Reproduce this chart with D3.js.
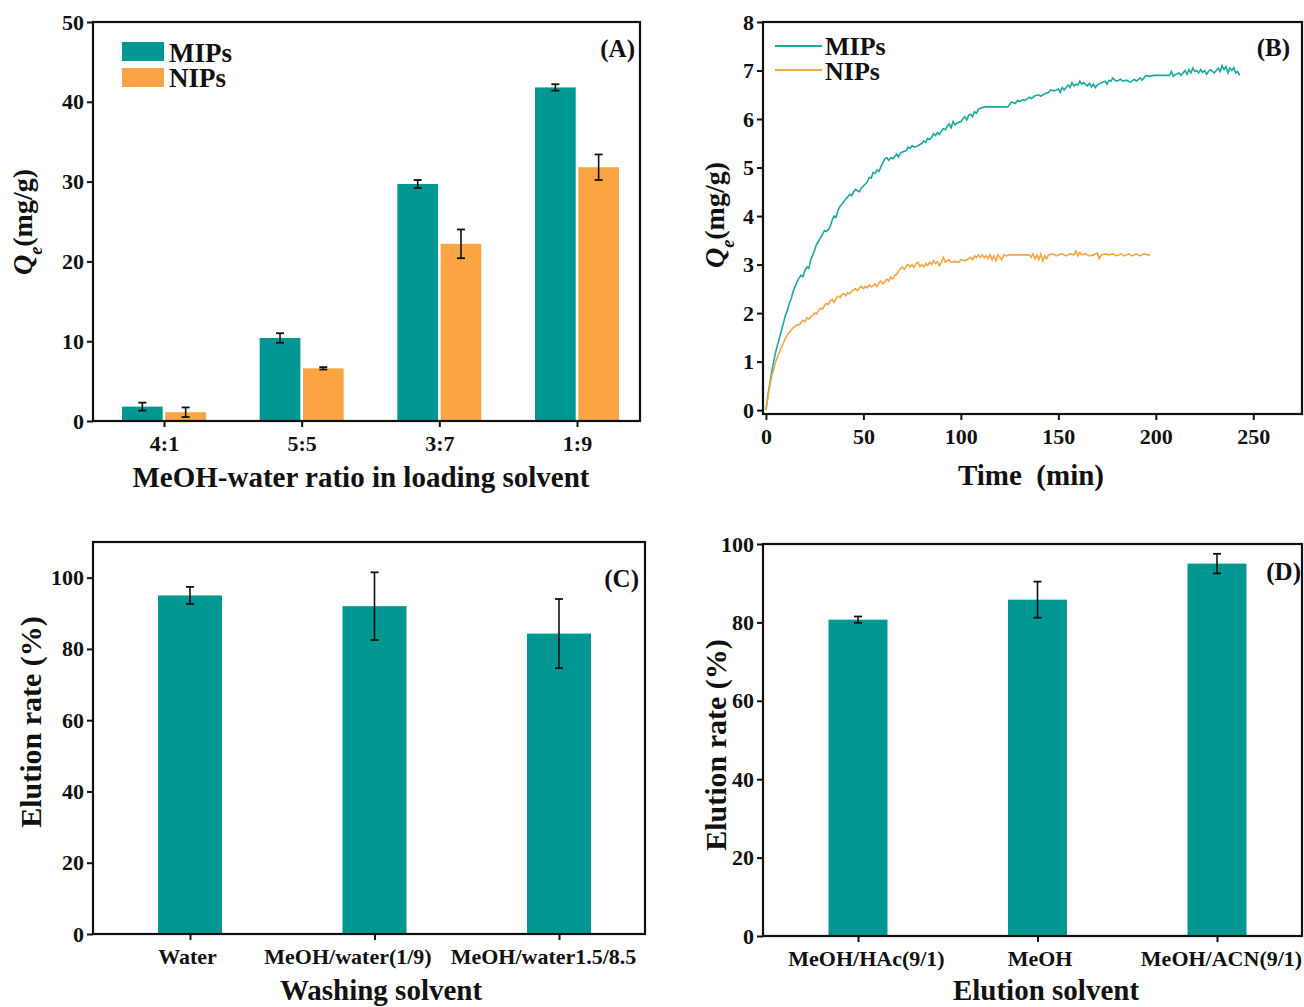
<!DOCTYPE html>
<html>
<head>
<meta charset="utf-8">
<script src="https://cdn.jsdelivr.net/npm/d3@7"></script>
<style>
body { margin:0; background:#fff; }
svg text { font-family:"Liberation Serif","Times New Roman",serif; font-weight:bold; fill:#111; }
</style>
</head>
<body>
<svg id="fig" width="1304" height="1007"></svg>
<script>

// panel A: loading solvent
var ratioCats = ["4:1","5:5","3:7","1:9"];
var mipLoad = [1.8, 10.4, 29.7, 41.8];
var mipLoadErr = [0.5, 0.6, 0.5, 0.4];
var nipLoad = [1.1, 6.6, 22.2, 31.8];
var nipLoadErr = [0.6, 0.15, 1.8, 1.6];
var loadTicks = [0,10,20,30,40,50];

// panel B: kinetics [time, Qe]
var mipKinetic = [[0,0],[1,0.3],[2,0.55],[3,0.8],[4,1.0],[5,1.2],[6,1.35],[7,1.5],[8,1.65],[9,1.8],[10,1.95],[11,2.05],[12,2.2],[13,2.3],[14,2.45],[15,2.55],[16,2.65],[17,2.72],[18,2.78],[19,2.75],[20,2.88],[21,2.95],[22,2.92],[23,3.1],[24,3.2],[25,3.3],[26,3.42],[27,3.48],[28,3.55],[29,3.62],[30,3.7],[31,3.68],[32,3.72],[33,3.78],[34,3.92],[35,4.0],[36,3.98],[37,4.12],[38,4.2],[39,4.25],[40,4.3],[41,4.35],[42,4.4],[43,4.45],[44,4.42],[45,4.5],[46,4.55],[47,4.52],[48,4.5],[49,4.58],[50,4.62],[52,4.7],[53,4.8],[54,4.78],[55,4.9],[56,4.88],[57,4.95],[58,4.92],[59,5.02],[60,5.1],[61,5.18],[62,5.2],[63,5.15],[64,5.2],[65,5.18],[66,5.22],[67,5.28],[68,5.22],[69,5.3],[70,5.32],[72,5.35],[73,5.42],[74,5.4],[75,5.45],[76,5.42],[78,5.45],[80,5.5],[81,5.55],[82,5.52],[83,5.6],[84,5.58],[85,5.62],[86,5.7],[87,5.66],[88,5.72],[89,5.68],[90,5.75],[91,5.8],[92,5.78],[93,5.85],[94,5.9],[95,5.82],[96,5.95],[97,5.88],[98,5.92],[100,5.95],[101,6.0],[102,6.05],[103,5.98],[104,6.08],[105,6.1],[106,6.05],[107,6.15],[108,6.12],[109,6.2],[110,6.22],[112,6.25],[124,6.25],[125,6.3],[126,6.35],[128,6.32],[129,6.38],[130,6.36],[132,6.4],[133,6.38],[135,6.45],[136,6.42],[138,6.48],[140,6.5],[141,6.47],[143,6.52],[145,6.55],[146,6.6],[148,6.58],[150,6.62],[151,6.55],[152,6.65],[153,6.6],[155,6.7],[156,6.65],[157,6.75],[158,6.68],[159,6.72],[160,6.7],[161,6.78],[162,6.72],[163,6.75],[165,6.68],[166,6.74],[167,6.66],[168,6.72],[169,6.65],[170,6.7],[172,6.75],[174,6.78],[175,6.72],[176,6.8],[177,6.78],[178,6.85],[179,6.8],[180,6.78],[182,6.82],[183,6.78],[185,6.8],[187,6.76],[189,6.82],[190,6.78],[192,6.85],[193,6.8],[195,6.9],[197,6.88],[199,6.9],[207,6.9],[208,6.98],[209,6.88],[210,6.92],[212,6.95],[213,6.9],[215,7.0],[216,6.92],[217,7.02],[218,6.95],[219,7.05],[220,6.98],[221,7.0],[222,6.95],[223,7.02],[224,6.96],[225,7.0],[226,6.92],[227,6.98],[228,7.02],[230,6.95],[231,7.0],[232,7.05],[233,6.98],[234,7.1],[235,7.02],[236,7.08],[237,6.95],[238,7.05],[239,7.0],[240,7.06],[241,6.95],[242,6.98],[243,6.9]];
var nipKinetic = [[0,0],[1,0.25],[2,0.5],[3,0.7],[4,0.85],[5,1.0],[6,1.1],[7,1.2],[8,1.3],[9,1.38],[10,1.48],[11,1.55],[12,1.6],[13,1.65],[14,1.7],[15,1.72],[16,1.76],[17,1.75],[18,1.8],[19,1.85],[20,1.82],[21,1.9],[22,1.88],[23,1.92],[24,1.95],[25,2.0],[26,1.98],[27,2.05],[28,2.1],[29,2.08],[30,2.15],[31,2.2],[32,2.18],[33,2.25],[34,2.28],[35,2.22],[36,2.3],[37,2.35],[38,2.32],[39,2.38],[40,2.4],[41,2.36],[42,2.42],[43,2.4],[44,2.45],[45,2.48],[46,2.5],[47,2.46],[48,2.52],[49,2.55],[50,2.5],[51,2.55],[52,2.52],[53,2.58],[54,2.54],[55,2.56],[56,2.6],[57,2.55],[58,2.62],[59,2.66],[60,2.6],[61,2.65],[62,2.7],[63,2.66],[64,2.74],[65,2.7],[66,2.78],[67,2.8],[68,2.86],[69,2.92],[70,2.95],[71,2.9],[72,2.97],[73,3.0],[74,2.95],[75,3.0],[76,2.94],[77,3.02],[78,3.05],[79,2.96],[80,3.0],[81,2.95],[82,3.02],[83,2.98],[84,3.05],[85,3.0],[86,3.08],[87,3.02],[88,3.06],[89,2.98],[90,3.05],[91,3.15],[92,3.05],[93,3.08],[94,3.1],[95,3.05],[97,3.06],[99,3.05],[100,3.1],[102,3.08],[104,3.12],[105,3.15],[106,3.1],[107,3.18],[108,3.14],[109,3.2],[110,3.15],[111,3.2],[112,3.14],[113,3.18],[114,3.12],[115,3.2],[116,3.1],[117,3.18],[118,3.08],[119,3.2],[120,3.15],[121,3.1],[122,3.2],[123,3.18],[125,3.2],[135,3.2],[136,3.15],[137,3.22],[138,3.12],[139,3.2],[140,3.1],[141,3.22],[142,3.08],[143,3.18],[144,3.12],[145,3.2],[147,3.22],[149,3.18],[150,3.2],[152,3.22],[154,3.18],[156,3.22],[158,3.2],[159,3.28],[160,3.18],[161,3.25],[162,3.2],[164,3.22],[166,3.18],[168,3.2],[170,3.24],[171,3.12],[172,3.2],[174,3.22],[176,3.2],[178,3.22],[180,3.18],[182,3.22],[184,3.18],[186,3.22],[188,3.18],[190,3.22],[192,3.18],[194,3.22],[196,3.2],[197,3.2]];
var timeTicks = [0,50,100,150,200,250];
var qeTicks = [0,1,2,3,4,5,6,7,8];

// panel C: washing solvent
var washCats = ["Water","MeOH/water(1/9)","MeOH/water1.5/8.5"];
var washRate = [95.0, 92.0, 84.3];
var washErr = [2.4, 9.5, 9.7];
var washTicks = [0,20,40,60,80,100];

// panel D: elution solvent
var eluCats = ["MeOH/HAc(9/1)","MeOH","MeOH/ACN(9/1)"];
var eluRate = [80.7, 85.8, 95.0];
var eluErr = [0.8, 4.6, 2.5];
var eluTicks = [0,20,40,60,80,100];

var teal = "#009792";
var orange = "#fba443";
var tealLine = "#1aa89f";
var orangeLine = "#f6a545";

var svg = d3.select("#fig");

// frame + left/bottom axes for one panel
var drawFrame = function(g, x0, x1, y0, y1, yScale, yTicks, xAxisFn)
{
    g.append("g")
        .attr("transform","translate("+x0+",0)")
        .call(d3.axisLeft(yScale).tickValues(yTicks).tickSize(6).tickPadding(3).tickFormat(d3.format("d")))
        .call(function(a){a.select(".domain").remove()})
        .selectAll("text").style("font-size","22px");
    var xa = g.append("g")
        .attr("class","xaxis")
        .attr("transform","translate(0,"+y1+")")
        .call(xAxisFn)
        .call(function(a){a.select(".domain").remove()});
    xa.selectAll("text").style("font-size","22px");
    g.selectAll(".tick line").attr("stroke","#111").attr("stroke-width",2);
    g.append("rect")
        .attr("x",x0).attr("y",y0)
        .attr("width",x1-x0).attr("height",y1-y0)
        .attr("fill","none").attr("stroke","#111").attr("stroke-width",2.2);
    return xa;
}

var yTitle = function(g, x, y, size, parts)
{
    var t = g.append("text")
        .attr("transform","translate("+x+","+y+") rotate(-90)")
        .attr("text-anchor","middle")
        .style("font-size",size+"px");
    parts.forEach(function(p){
        var s = t.append("tspan").text(p.t);
        if(p.i) s.style("font-style","italic");
        if(p.sub) s.attr("baseline-shift","sub").style("font-size",(size*0.65)+"px");
    });
}

var xTitle = function(g, x, y, txt)
{
    g.append("text").attr("x",x).attr("y",y)
        .attr("text-anchor","middle").style("font-size","29px").text(txt);
}

var errBars = function(g, xs, vals, errs, yScale, cap)
{
    vals.forEach(function(v,i){
        var x = xs[i];
        var top = yScale(v+errs[i]), bot = yScale(v-errs[i]);
        g.append("line").attr("x1",x).attr("x2",x).attr("y1",top).attr("y2",bot)
            .attr("stroke","#111").attr("stroke-width",1.6);
        [top,bot].forEach(function(yy){
            g.append("line").attr("x1",x-cap).attr("x2",x+cap).attr("y1",yy).attr("y2",yy)
                .attr("stroke","#111").attr("stroke-width",1.8);
        });
    });
}

//---------------- panel A
var gA = svg.append("g");
var yA = d3.scaleLinear().domain([0,50]).range([421,22]);
var xA = d3.scalePoint().domain(ratioCats).range([164,577]);
var subA = d3.scaleBand().domain(["MIPs","NIPs"]).range([-42,42]).paddingInner(0.06);

var seriesA = [
    {name:"MIPs", vals:mipLoad, errs:mipLoadErr, color:teal},
    {name:"NIPs", vals:nipLoad, errs:nipLoadErr, color:orange}
];
seriesA.forEach(function(s){
    gA.selectAll("rect."+s.name)
        .data(s.vals)
        .enter()
        .append("rect")
        .attr("x",function(d,i){return xA(ratioCats[i])+subA(s.name)})
        .attr("width",subA.bandwidth())
        .attr("y",function(d){return yA(d)})
        .attr("height",function(d){return yA(0)-yA(d)})
        .attr("fill",s.color);
    errBars(gA, ratioCats.map(function(c){return xA(c)+subA(s.name)+subA.bandwidth()/2}), s.vals, s.errs, yA, 4);
});
drawFrame(gA, 93, 640, 22, 421, yA, loadTicks,
    d3.axisBottom(xA).tickSize(6).tickPadding(8));
yTitle(gA, 32, 222, 28, [{t:"Q",i:true},{t:"e",i:true,sub:true},{t:"(mg/g)"}]);
xTitle(gA, 361, 487, "MeOH-water ratio in loading solvent");

// legend A
seriesA.forEach(function(s,i){
    gA.append("rect").attr("x",122).attr("y",42+i*26).attr("width",42).attr("height",19).attr("fill",s.color);
    gA.append("text").attr("x",169).attr("y",62+i*25).style("font-size","27px").text(s.name);
});
gA.append("text").attr("x",635).attr("y",57).attr("text-anchor","end").style("font-size","25px").text("(A)");

//---------------- panel B
var gB = svg.append("g");
var xB = d3.scaleLinear().domain([-1.5,275]).range([763,1302]);
var yB = d3.scaleLinear().domain([-0.08,8]).range([414,22]);
var line = d3.line()
    .x(function(d){return xB(d[0])})
    .y(function(d){return yB(d[1])});

gB.append("path").datum(mipKinetic).attr("d",line)
    .attr("fill","none").attr("stroke",tealLine).attr("stroke-width",1.6);
gB.append("path").datum(nipKinetic).attr("d",line)
    .attr("fill","none").attr("stroke",orangeLine).attr("stroke-width",1.6);

drawFrame(gB, 763, 1302, 22, 414, yB, qeTicks,
    d3.axisBottom(xB).tickValues(timeTicks).tickSize(6).tickPadding(8).tickFormat(d3.format("d")));
yTitle(gB, 724, 215, 28, [{t:"Q",i:true},{t:"e",i:true,sub:true},{t:"(mg/g)"}]);
xTitle(gB, 1031, 485, "Time\u00a0\u00a0(min)");

[{name:"MIPs",c:tealLine},{name:"NIPs",c:orangeLine}].forEach(function(s,i){
    gB.append("line").attr("x1",775).attr("x2",822).attr("y1",46+i*24).attr("y2",46+i*24)
        .attr("stroke",s.c).attr("stroke-width",2);
    gB.append("text").attr("x",825).attr("y",55+i*25).style("font-size","26px").text(s.name);
});
gB.append("text").attr("x",1290).attr("y",56).attr("text-anchor","end").style("font-size","25px").text("(B)");

//---------------- panel C
var gC = svg.append("g");
var yC = d3.scaleLinear().domain([0,110]).range([934,542]);
var xC = d3.scalePoint().domain(washCats).range([190,559]);
var bwC = 64;
gC.selectAll("rect.bar")
    .data(washRate)
    .enter()
    .append("rect")
    .attr("x",function(d,i){return xC(washCats[i])-bwC/2})
    .attr("width",bwC)
    .attr("y",function(d){return yC(d)})
    .attr("height",function(d){return yC(0)-yC(d)})
    .attr("fill",teal);
errBars(gC, washCats.map(function(c){return xC(c)}), washRate, washErr, yC, 4);
var xaC = drawFrame(gC, 93, 645, 542, 934, yC, washTicks,
    d3.axisBottom(xC).tickSize(6).tickPadding(8));
// long labels sit a bit left of their ticks in the original
var labelShiftC = [-3, -27, -16];
xaC.selectAll(".tick text").attr("dx",function(d,i){return labelShiftC[i]});
yTitle(gC, 41, 722, 30, [{t:"Elution rate (%)"}]);
xTitle(gC, 381, 1000, "Washing solvent");
gC.append("text").attr("x",639).attr("y",587).attr("text-anchor","end").style("font-size","25px").text("(C)");

//---------------- panel D
var gD = svg.append("g");
var yD = d3.scaleLinear().domain([0,100]).range([936,544]);
var xD = d3.scalePoint().domain(eluCats).range([858,1217]);
var bwD = 59;
gD.selectAll("rect.bar")
    .data(eluRate)
    .enter()
    .append("rect")
    .attr("x",function(d,i){return xD(eluCats[i])-bwD/2})
    .attr("width",bwD)
    .attr("y",function(d){return yD(d)})
    .attr("height",function(d){return yD(0)-yD(d)})
    .attr("fill",teal);
errBars(gD, eluCats.map(function(c){return xD(c)}), eluRate, eluErr, yD, 4);
var xaD = drawFrame(gD, 763, 1302, 544, 936, yD, eluTicks,
    d3.axisBottom(xD).tickSize(6).tickPadding(8));
var labelShiftD = [8, 2, 4];
xaD.selectAll(".tick text").attr("dx",function(d,i){return labelShiftD[i]});
yTitle(gD, 726, 745, 30, [{t:"Elution rate (%)"}]);
xTitle(gD, 1046, 1000, "Elution solvent");
gD.append("text").attr("x",1301).attr("y",580).attr("text-anchor","end").style("font-size","25px").text("(D)");

</script>
</body>
</html>
